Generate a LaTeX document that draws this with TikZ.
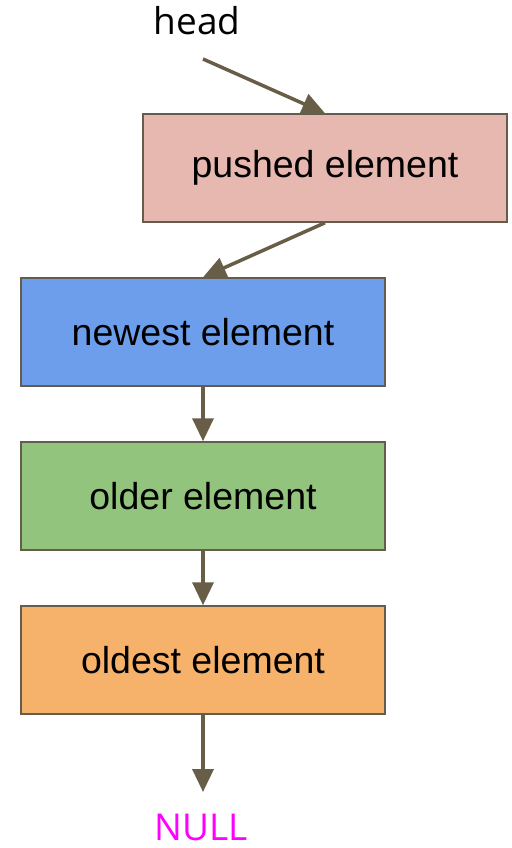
\documentclass[tikz,border=0pt]{standalone}
\usepackage{fontspec}
\usepackage{xcolor}
\usetikzlibrary{arrows.meta}
\setmainfont{Liberation Sans}
\newfontfamily\labelfont{Open Sans}

\definecolor{pushedfill}{HTML}{E6B8AF}
\definecolor{newestfill}{HTML}{6D9EEB}
\definecolor{olderfill}{HTML}{93C47D}
\definecolor{oldestfill}{HTML}{F6B26B}
\definecolor{boxline}{RGB}{100,92,76}
\definecolor{arrowline}{RGB}{104,94,72}
\definecolor{nullcolor}{RGB}{255,0,255}

\tikzset{
  elem/.style={draw=boxline, line width=1.5pt, minimum width=364pt, minimum height=108pt,
    font=\fontsize{37.5}{44}\selectfont, inner sep=0pt},
  link/.style={draw=arrowline, line width=3.5pt, -{Triangle[length=23pt, width=21pt]}},
  tag/.style={font=\labelfont\fontsize{37}{44}\selectfont}
}

\begin{document}
\begin{tikzpicture}[x=1pt, y=-1pt]
\useasboundingbox (0,0) rectangle (511,848);
\node[tag] (head) at (197,21) {head};
\coordinate (headptr) at (203,59);
\node[elem, fill=pushedfill] (pushed) at (325,168) {pushed element};
\node[elem, fill=newestfill] (newest) at (203,332) {newest element};
\node[elem, fill=olderfill] (older) at (203,496) {older element};
\node[elem, fill=oldestfill] (oldest) at (203,660) {oldest element};
\node[tag, text=nullcolor] (null) at (201,827) {NULL};

\draw[link] (headptr) -- (pushed.north);
\draw[link] (pushed.south) -- (newest.north);
\draw[link] (newest) -- (older);
\draw[link] (older) -- (oldest);
\draw[link] (oldest.south) -- (203,792);
\end{tikzpicture}
\end{document}
